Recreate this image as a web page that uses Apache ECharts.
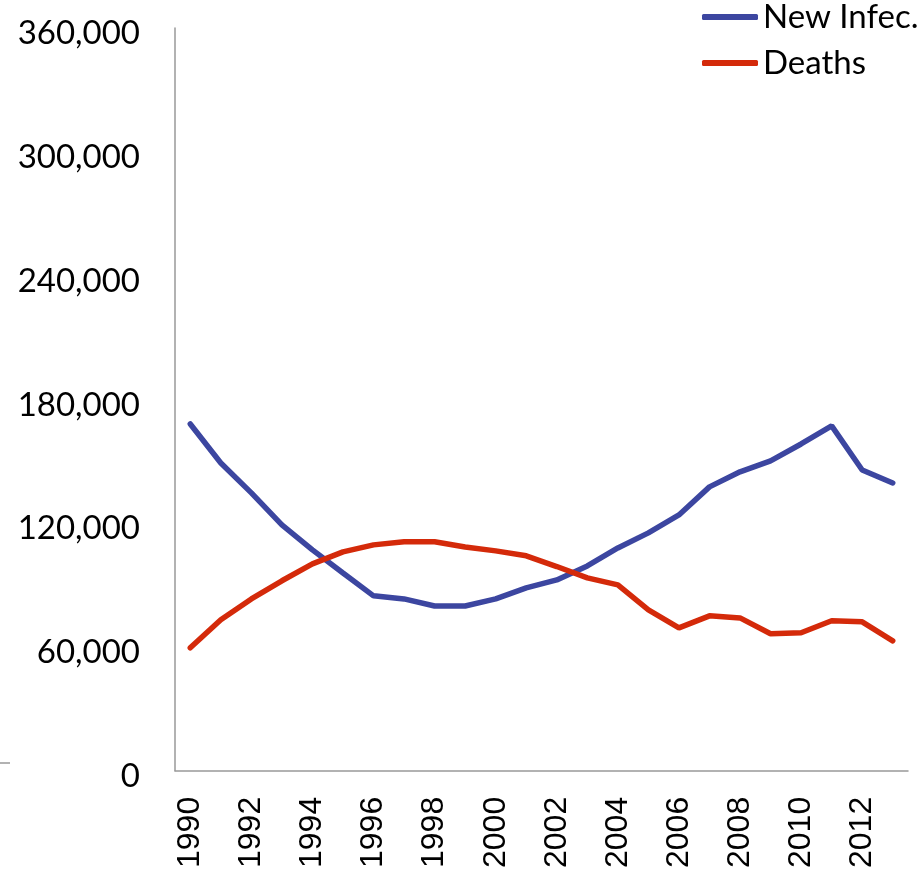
<!DOCTYPE html>
<html>
<head>
<meta charset="utf-8">
<script src="https://cdn.jsdelivr.net/npm/echarts@6/dist/echarts.min.js"></script>
<style>
  html, body { margin: 0; padding: 0; background: #fff; }
  #chart { width: 921px; height: 871px; }
</style>
</head>
<body>
<div id="chart"></div>
<script>
const years = ['1990', '1991', '1992', '1993', '1994', '1995', '1996', '1997', '1998', '1999', '2000', '2001',
  '2002', '2003', '2004', '2005', '2006', '2007', '2008', '2009', '2010', '2011', '2012', '2013'];
const newInfections = [168100, 149200, 134700, 119200, 107100, 95900, 84800, 83300, 79900, 79900, 83300, 88700,
  92500, 99300, 108000, 115300, 124000, 137600, 144900, 150200, 158400, 167200, 145800, 139500];
const deaths = [59600, 73200, 83300, 92100, 100300, 106100, 109500, 111000, 111000, 108500, 106600, 104200,
  99000, 93500, 90100, 78000, 69300, 75100, 74100, 66400, 66900, 72700, 72200, 63000];
const seriesNames = ['New Infec.', 'Deaths'];
const colors = ['#3c46a0', '#d42a0a'];

const chart = echarts.init(document.getElementById('chart'));
chart.setOption({
  backgroundColor: '#fff',
  animation: false,
  grid: { left: 175, right: 13, top: 28, bottom: 100 },
  legend: {
    orient: 'vertical',
    left: 697,
    top: -6,
    itemWidth: 56,
    itemHeight: 6,
    itemGap: 10,
    icon: 'roundRect',
    textStyle: { fontFamily: 'Lato', fontSize: 33, color: '#000', lineHeight: 36 },
    data: seriesNames
  },
  xAxis: {
    type: 'category',
    data: years,
    boundaryGap: true,
    axisLine: { lineStyle: { color: '#999', width: 1.5 } },
    axisTick: { show: false },
    axisLabel: {
      interval: 1,
      rotate: 90,
      margin: 26,
      fontFamily: 'Liberation Sans',
      fontSize: 32,
      color: '#000'
    }
  },
  yAxis: {
    type: 'value',
    min: 0,
    max: 360000,
    interval: 60000,
    axisLine: { show: true, lineStyle: { color: '#999', width: 1.5 } },
    axisTick: { show: false },
    splitLine: { show: false },
    axisLabel: {
      margin: 35,
      color: '#000',
      formatter: v => '{v|' + v.toLocaleString('en-US') + '}',
      rich: {
        v: { fontFamily: 'Lato', fontSize: 33, color: '#000', padding: [11, 0, 0, 0] }
      }
    }
  },
  graphic: [{
    type: 'line',
    shape: { x1: 0, y1: 763, x2: 10, y2: 763 },
    style: { stroke: '#999', lineWidth: 1.5 }
  }],
  series: [
    {
      name: seriesNames[0], type: 'line', data: newInfections, symbol: 'none',
      lineStyle: { color: colors[0], width: 5.5, cap: 'round' }, itemStyle: { color: colors[0] }
    },
    {
      name: seriesNames[1], type: 'line', data: deaths, symbol: 'none',
      lineStyle: { color: colors[1], width: 5.5, cap: 'round' }, itemStyle: { color: colors[1] }
    }
  ]
});
</script>
</body>
</html>
